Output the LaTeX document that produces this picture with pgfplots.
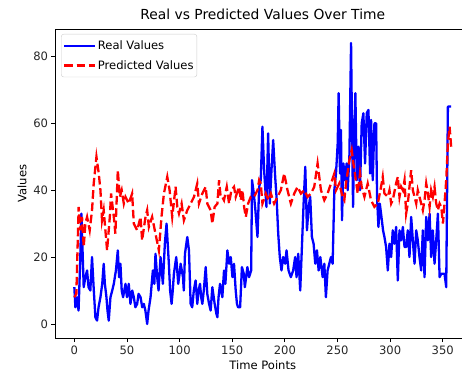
\documentclass[border=0pt]{standalone}
\usepackage{fontspec}
\setmainfont{DejaVu Sans}
\usepackage{pgfplots}
\pgfplotsset{compat=1.18}
\usepackage{pgfplotstable}
\pgfplotstableread{
t v
0 11
1 5
2.5 8
4 4
5.5 18
6.7 33
8 20
8.9 11
10.5 14
12.1 16
13.5 11
15.2 10
16.8 20
18.5 10
20 2
21.6 1
23 5
24.8 8
26.5 12
27.9 18
29 12
30.5 8
31.5 4
32.7 1
34.3 8
36 10
37.5 12
39.5 16
41.3 22
42.5 14
43.8 18
45 10
46.3 8
48.6 12
50 8
51.7 12
53.3 6
55 10
56.5 8
58 5
59.7 6
61 9
62.9 8
64.5 5
66 6
67.5 4
69.2 0
70.5 4
72.4 8
74.6 16
76 12
77.1 21
78.7 14
80 10
81.9 20
83 16
84.1 12
86 24
87.6 30
88.7 24
89.8 18
91 10
92.4 6
93.5 10
94.6 15
96.8 20
98.7 12
100 15
101 18
103.2 14
104 10
105.1 21
107.3 26
108.9 22
110.5 6
112 5
113.5 10
115.2 13
116.8 6
118 10
119.4 12
120.5 8
121.6 6
123 10
124.8 17
126.3 9
128 6
129.5 4
131.1 11
133.3 6
135 3
135.9 2
137 8
138.4 12
140.6 8
142.2 16
143.5 12
145.4 22
147 18
148.6 20
150.2 14
151.7 18
153.3 10
154.5 6
155.6 5
157.5 5
159.2 17
161 15
162 11
164.4 17
166 14
168 16
168.8 43
170.5 39
172 34
174 26
175.6 41
177.1 43
178.7 59
180.3 46
182.5 35
184.1 57
185.7 36
187.3 46
188.9 55
190.8 44
192.1 38
193.7 27
195.2 20
196.8 16
198.4 20
200.3 18
201.6 22
203.5 16
205.7 14
207.9 16
209.8 20
211.1 14
212.7 21
214.6 10
216.2 23
217.8 36
219.4 47
221 28
222.6 35
224.1 38
225.7 26
227.3 24
228.9 18
230.5 22
232.1 16
233.7 20
235.9 14
237.5 18
239 8
240.6 16
242.2 18
243.8 20
245.4 18
247 40
248.6 45
250.2 54
251.1 69
252.4 45
253.3 58
254.3 31
255.6 48
257.1 43
258.7 48
259.7 40
261.3 50
262.9 84
263.8 58
264.8 35
266 58
267 69
268.3 43
269.8 53
271.4 40
273 60
274.6 63
276.2 48
277.8 63
279.4 64
281 45
281.9 61
283.5 43
285.1 60
286.7 60
287.6 38
288.9 29
290.2 36
291.4 33
293.3 28
294.6 26
296.2 23
297.8 16
299.4 24
301 20
302.5 28
304.1 24
305.7 29
307.3 13
308.9 28
310.5 25
312.1 29
313.7 23
315.2 23
316.8 28
318.4 20
320 32
321.6 25
323.2 18
324.8 28
326.3 25
327.9 20
329.5 16
331.1 28
332.7 14
334.3 32
335.9 25
337.5 33
339 20
340.6 28
342.2 18
343.8 25
345.4 33
347 14
348.6 15
350.2 15
351.7 15
353.3 11
354.9 65
356.5 65
358 65
}\realdata
\pgfplotstableread{
t v
0 8
1.9 9
4.1 35
5.7 28
7.3 32
8.9 23
10.5 30
12.1 32
14.6 28
16.8 34
18.4 42
21 50
23.2 45
24.8 40
26.3 31
27.9 34
29.5 28
31.1 22
33.7 32
34.9 39
37.5 32
39 27
41.3 46
43.2 38
45 40
47 36
48.6 38
51.7 36
54.9 39
56.5 30
59.7 28
62.9 32
64.4 25
67.6 32
69.2 34
70.8 29
73.9 32
77.1 27
80.3 22
82.8 32
85.1 39
88.3 44
90.5 40
93 32
96.2 41
97.8 35
99.4 33
101.9 36
104.1 31
107.3 34
110.5 36
113.7 38
116.8 42
118.4 36
121.6 39
124.8 41
126.3 36
129.5 34
131.1 30
133.3 35
135.9 36
137.5 43
139 38
140.6 38
142.2 37
144.8 41
147 36
149.2 40
151.7 41
153.3 38
156.5 41
158.1 37
159.7 40
161.3 35
162.9 32
165.1 36
167.6 38
170.8 38
174 40
175.6 43
177.1 42
178.7 36
181.9 39
184.4 37
186.7 39
189.8 36
193 38
196.2 40
199.4 45
202.5 40
205.7 36
208.9 39
212.1 41
215.2 39
218.4 40
221.6 38
224.8 39
227.9 41
231.1 48
234.3 40
237.5 37
240.6 39
243.8 42
247 45
248.6 40
251.7 42
254.9 38
256.5 37
258.1 42
261.3 49
263.5 52
265.1 48
267 44
269.2 39
271.4 45
273 41
275.6 38
278.7 42
281.9 37
285.1 35
288.3 36
291.4 41
293 44
294.6 39
297.8 38
299.4 40
301 36
302.5 37
305.7 42
307.3 44
308.9 38
310.5 41
312.1 40
313.7 43
315.2 33
316.8 36
318.4 41
320 46
321.6 40
323.2 38
324.8 36
326.3 40
327.9 38
329.5 36
331.1 34
332.7 37
334.3 42
335.9 39
337.5 35
339 40
340.6 38
342.2 41
343.8 36
345.4 34
347 36
348.6 35
350.2 30
351.7 36
353.3 43
354.9 54
356.5 59
358 53
}\preddata
\begin{document}
\begin{tikzpicture}
\useasboundingbox (-55.5bp,-36bp) rectangle (406.5bp,338bp);
\clip (-55.5bp,-36bp) rectangle (406.5bp,338bp);
\begin{axis}[
  at={(0,0)}, anchor=south west,
  scale only axis, width=414.5bp, height=309bp,
  xmin=-17.9, xmax=375.9, ymin=-4.2, ymax=88.2,
  xtick={0,50,...,350}, ytick={0,20,...,80},
  xtick pos=bottom, ytick pos=left,
  tick align=outside, major tick length=4bp,
  tick style={black, line width=0.9bp},
  axis line style={black, line width=0.9bp},
  /pgf/number format/assume math mode=true,
  ticklabel style={font=\fontsize{11.6}{13}\selectfont, text=black!85},
  label style={font=\fontsize{11.6}{13}\selectfont},
  xlabel={Time Points}, ylabel={Values},
  title={Real vs Predicted Values Over Time},
  title style={font=\fontsize{13.9}{16}\selectfont},
  legend cell align=left,
  legend image code/.code={\draw[#1] (0bp,0bp) -- (25.7bp,0bp); \path (0bp,0bp) -- (31bp,0bp);},
  legend style={at={(0.0135,0.984)}, anchor=north west,
    draw=black!20, rounded corners=2.5bp, fill=white, fill opacity=0.8, text opacity=1,
    font=\fontsize{11.6}{13}\selectfont, inner xsep=1.8bp, inner ysep=5bp, row sep=6.3bp,
    nodes={inner sep=1.5bp}},
]
\addplot[blue, line width=2.3bp, line join=round] table[x=t,y=v] {\realdata};
\addlegendentry{Real Values}
\addplot[red, line width=2.3bp, dash pattern=on 8.6bp off 3.7bp] table[x=t,y=v] {\preddata};
\addlegendentry{Predicted Values\hspace{3.4bp}}
\end{axis}
\end{tikzpicture}
\end{document}
